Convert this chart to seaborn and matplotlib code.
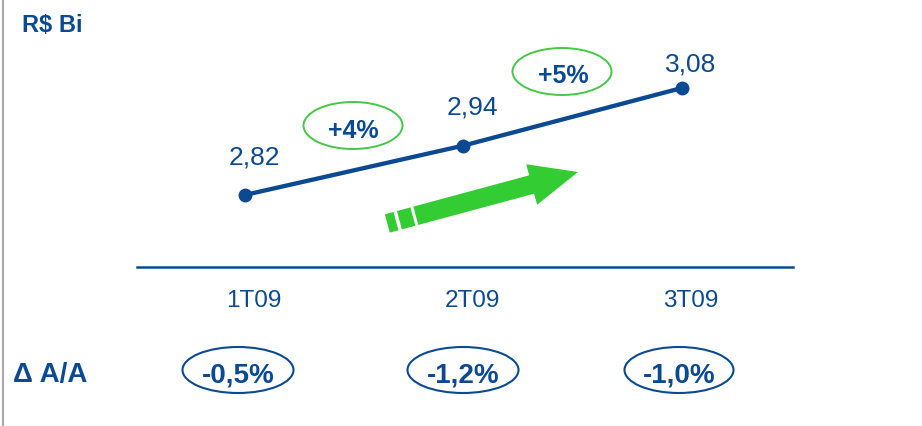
import numpy as np
import pandas as pd
import matplotlib
matplotlib.use("Agg")
import matplotlib.pyplot as plt
import matplotlib.transforms as mtransforms
from matplotlib.patches import Ellipse, Polygon
from matplotlib.lines import Line2D
import seaborn as sns

# Receita trimestral (R$ bilhões)
quarters = ["1T09", "2T09", "3T09"]
revenue = [2.82, 2.94, 3.08]
growth_qoq = ["+4%", "+5%"]
change_yoy = ["-0,5%", "-1,2%", "-1,0%"]
unit_label = "R$ Bi"
yoy_label = "Δ A/A"

BLUE = "#0B4A92"
GREEN_EDGE = "#44C944"
GREEN = "#33CC33"

sns.set_theme(style="white")
plt.rcParams["font.family"] = ["Liberation Sans", "DejaVu Sans"]

W, H = 922, 427
fig = plt.figure(figsize=(W / 100, H / 100), dpi=100)

# main chart area, its bottom spine is the baseline
ax = fig.add_axes([137 / W, 1 - 268 / H, 656 / W, 268 / H])
df = pd.DataFrame({"trimestre": quarters, "receita": revenue})
sns.lineplot(data=df, x="trimestre", y="receita", ax=ax, sort=False,
             color=BLUE, linewidth=3.1, marker="o", markersize=10,
             markeredgewidth=0)
ax.set_xlim(-0.494, 2.508)
ax.set_ylim(2.645, 3.296)
ax.set_xlabel("")
ax.set_ylabel("")
ax.set_yticks([])
for side in ["top", "left", "right"]:
    ax.spines[side].set_visible(False)
ax.spines["bottom"].set_color(BLUE)
ax.spines["bottom"].set_linewidth(1.8)
ax.tick_params(axis="x", length=0, pad=16, labelsize=17.5, labelcolor=BLUE)
shift = mtransforms.ScaledTranslation(9 / 100, 0, fig.dpi_scale_trans)
for lab in ax.get_xticklabels():
    lab.set_transform(lab.get_transform() + shift)

# value labels above each point
label_rise = [23, 23, 12.2]
for i, (v, rise) in enumerate(zip(revenue, label_rise)):
    ax.annotate(f"{v:.2f}".replace(".", ","), (i, v), xytext=(6.5, rise),
                textcoords="offset points", ha="center", va="baseline",
                fontsize=19, color=BLUE)

# overlay in pixel units for callouts and the arrow
ov = fig.add_axes([0, 0, 1, 1])
ov.set_xlim(0, W)
ov.set_ylim(H, 0)
ov.axis("off")

ov.add_line(Line2D([3, 3], [0, H], color="#A8A8A8", linewidth=1.5))

ov.text(22, 32, unit_label, fontsize=17, fontweight="bold", color=BLUE,
        ha="left", va="baseline")
ov.text(13, 382, yoy_label, fontsize=20, fontweight="bold", color=BLUE,
        ha="left", va="baseline")

# growth callouts
for txt, (cx, cy, tx, base) in zip(growth_qoq, [(353, 126.5, 353, 138),
                                               (562, 72.5, 563, 83)]):
    ov.add_patch(Ellipse((cx, cy), 99, 47, facecolor="none",
                         edgecolor=GREEN_EDGE, linewidth=1.4))
    ov.text(tx, base, txt, fontsize=18, fontweight="bold", color=BLUE,
            ha="center", va="baseline")

# year-over-year callouts
for txt, (cx, w) in zip(change_yoy, [(238, 111), (463, 111), (679, 109)]):
    ov.add_patch(Ellipse((cx, 371), w, 46, facecolor="none",
                         edgecolor=BLUE, linewidth=1.5))
    ov.text(cx, 383, txt, fontsize=20, fontweight="bold", color=BLUE,
            ha="center", va="baseline")

# green trend arrow with dashed tail
tip = np.array([578.0, 173.0])
u = np.array([163.0, -44.0])
u /= np.hypot(*u)
n = np.array([-u[1], u[0]])
half_w, head_len, head_half = 9.5, 48.0, 21.0


def seg(d0, d1):
    a = tip - d0 * u
    b = tip - d1 * u
    return [a - half_w * n, b - half_w * n, b + half_w * n, a + half_w * n]


head_base = tip - head_len * u
arrow_pts = [tip, head_base - head_half * n, head_base - half_w * n,
             tip - 168 * u - half_w * n, tip - 168 * u + half_w * n,
             head_base + half_w * n, head_base + head_half * n]
ov.add_patch(Polygon(arrow_pts, closed=True, facecolor=GREEN, edgecolor="none"))
ov.add_patch(Polygon(seg(171, 185), closed=True, facecolor=GREEN, edgecolor="none"))
ov.add_patch(Polygon(seg(188.5, 197.5), closed=True, facecolor=GREEN, edgecolor="none"))

fig.savefig("out.png", dpi=100)
